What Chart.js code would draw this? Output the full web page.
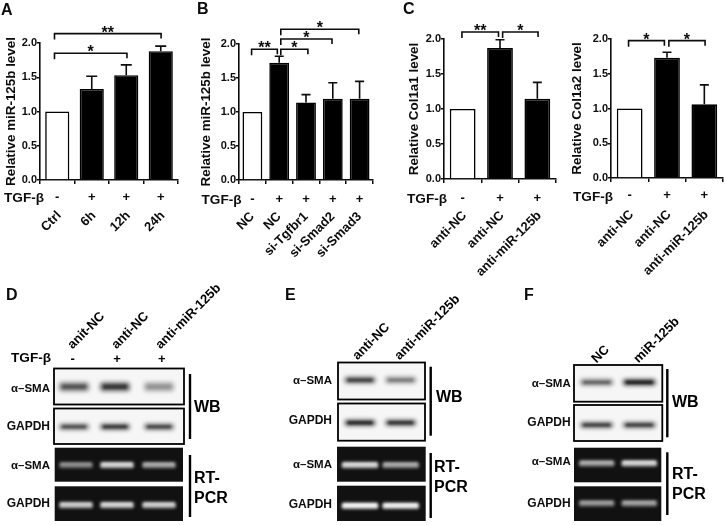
<!DOCTYPE html>
<html><head><meta charset="utf-8">
<script src="https://cdn.jsdelivr.net/npm/chart.js@4"></script>
<style>
html,body{margin:0;padding:0;background:#fff;width:725px;height:525px;overflow:hidden}
canvas{position:absolute;filter:blur(0.4px)}
</style></head><body>
<canvas id="blots" style="left:0;top:0" width="725" height="525"></canvas>
<canvas id="a" style="left:0;top:0" width="190" height="285"></canvas>
<canvas id="b" style="left:190px;top:0" width="190" height="285"></canvas>
<canvas id="c" style="left:395px;top:0" width="170" height="285"></canvas>
<canvas id="c2" style="left:568px;top:0" width="157" height="285"></canvas>
<script>
// ---- Data ----
const catsA = ['Ctrl','6h','12h','24h'];
const valsA = [1.0,1.33,1.53,1.88];
const topsA = [null,1.515,1.68,1.955];
const signsA = ['-','+','+','+'];
const bracketsA = [[-0.08,3.01,2.137,'**'],[-0.08,2.02,1.85,'*']];

const catsB = ['NC','NC','si-Tgfbr1','si-Smad2','si-Smad3'];
const valsB = [1.0,1.725,1.14,1.195,1.195];
const topsB = [null,1.82,1.255,1.43,1.45];
const signsB = ['-','+','+','+','+'];
const bracketsB = [[-0.03,0.93,1.922,'**'],[1.06,2.07,1.922,'*'],[1.06,2.97,2.074,'*'],[1.06,3.97,2.216,'*']];

const catsC = ['anti-NC','anti-NC','anti-miR-125b'];
const valsC1 = [1.0,1.87,1.145];
const topsC1 = [null,1.99,1.38];
const signsC = ['-','+','+'];
const bracketsC1 = [[-0.02,0.96,2.10,'**'],[1.07,2.02,2.10,'*']];

const valsC2 = [1.0,1.73,1.06];
const topsC2 = [null,1.81,1.34];
const bracketsC2 = [[-0.03,0.93,1.976,'*'],[1.05,2.02,1.976,'*']];

const yTicks = [0,0.5,1,1.5,2];

const lanesD = ['anit-NC','anti-NC','anti-miR-125b'];
const signsD = ['-','+','+'];
const wbSmaD = [0.5,0.72,0.16], wbGapdhD = [0.62,0.8,0.68], rtSmaD = [0.32,0.78,0.5], rtGapdhD = [0.72,0.78,0.74];
const lanesE = ['anti-NC','anti-miR-125b'];
const wbSmaE = [0.7,0.32], wbGapdhE = [0.95,0.85], rtSmaE = [0.8,0.5], rtGapdhE = [0.98,0.95];
const lanesF = ['NC','miR-125b'];
const wbSmaF = [0.45,0.98], wbGapdhF = [0.72,0.72], rtSmaF = [0.5,0.78], rtGapdhF = [0.4,0.45];

// ---- Styling / layout ----
const INK = '#0c0c0c';
const FF = '"Liberation Sans", Arial, sans-serif';
Chart.defaults.font.family = FF;
Chart.defaults.color = INK;

const annotate = {
  id:'annotate',
  afterDatasetsDraw(chart, args, o){
    const ctx = chart.ctx, x = chart.scales.x, y = chart.scales.y;
    ctx.save();
    ctx.strokeStyle = INK; ctx.fillStyle = INK; ctx.lineWidth = 1.6;
    // error bars
    o.tops.forEach((t,i)=>{
      if(t===null) return;
      const px = x.getPixelForValue(i), a = y.getPixelForValue(chart.data.datasets[0].data[i]), b = y.getPixelForValue(t);
      ctx.beginPath(); ctx.moveTo(px,a); ctx.lineTo(px,b);
      ctx.moveTo(px-o.cap,b); ctx.lineTo(px+o.cap,b); ctx.stroke();
    });
    // significance brackets
    ctx.textAlign='center'; ctx.textBaseline='alphabetic';
    o.brackets.forEach(([f,t,v,s])=>{
      const l=x.getPixelForValue(f), r=x.getPixelForValue(t), py=y.getPixelForValue(v);
      ctx.beginPath(); ctx.moveTo(l,py+6); ctx.lineTo(l,py); ctx.lineTo(r,py); ctx.lineTo(r,py+5); ctx.stroke();
      ctx.font='bold 16px '+FF;
      ctx.fillText(s,(l+r)/2,py+4);
    });
    // TGF-beta row
    ctx.font='bold 13.6px '+FF; ctx.textAlign='left'; ctx.textBaseline='middle';
    ctx.fillText('TGF-β',o.tgfX,o.tgfY);
    ctx.font='bold 13px '+FF; ctx.textAlign='center';
    o.signs.forEach((s,i)=>ctx.fillText(s,x.getPixelForValue(i),o.signY));
    ctx.restore();
  }
};

function barChart(id,cats,vals,tops,signs,brackets,title,g){
  new Chart(document.getElementById(id),{
    type:'bar',
    data:{labels:cats,datasets:[{
      data:vals,
      backgroundColor:vals.map((v,i)=>i===0?'#ffffff':'#000000'),
      borderColor:'#000000',borderWidth:1.6,
      categoryPercentage:1,barPercentage:g.bar
    }]},
    options:{
      responsive:false,animation:false,
      layout:{autoPadding:false,padding:{left:0,top:g.top,right:g.right,bottom:0}},
      plugins:{legend:{display:false},tooltip:{enabled:false},
        annotate:{tops,signs,brackets,cap:g.cap,tgfX:g.tgfX,tgfY:g.tgfY,signY:g.signY}},
      scales:{
        x:{
          afterFit(s){s.height=285-g.bottom;s.paddingLeft=0;s.paddingRight=0;},
          grid:{display:true,drawOnChartArea:false,drawTicks:true,tickLength:4,color:INK,lineWidth:1.5},
          border:{color:INK,width:1.6},
          ticks:{autoSkip:false,maxRotation:45,minRotation:45,padding:g.tickPad,labelOffset:g.labelOffset,color:INK,font:{size:13,weight:'bold'}}
        },
        y:{
          min:0,max:2,
          afterFit(s){s.width=g.left;s.paddingTop=0;s.paddingBottom=0;},
          afterBuildTicks(s){s.ticks=yTicks.map(v=>({value:v}));},
          grid:{display:true,drawOnChartArea:false,drawTicks:true,tickLength:3,color:INK,lineWidth:1.5},
          border:{color:INK,width:1.6},
          ticks:{padding:0,color:INK,font:{size:11,weight:'bold'},callback:v=>Number(v).toFixed(1)},
          title:{display:true,text:title,color:INK,font:{size:13.4,weight:'bold'},padding:{top:g.titlePad,bottom:0}}
        }
      }
    },
    plugins:[annotate]
  });
}

barChart('a',catsA,valsA,topsA,signsA,bracketsA,'Relative miR-125b level',
  {left:40,top:43,right:12,bottom:180,bar:0.7,cap:5.5,tickPad:24,labelOffset:2,tgfX:4,tgfY:198,signY:197,titlePad:3.5});
barChart('b',catsB,valsB,topsB,signsB,bracketsB,'Relative miR-125b level',
  {left:49,top:44,right:7,bottom:180,bar:0.74,cap:4.5,tickPad:25,labelOffset:0,tgfX:11.5,tgfY:200,signY:199,titlePad:8});
barChart('c',catsC,valsC1,topsC1,signsC,bracketsC1,'Relative Col1a1 level',
  {left:49,top:39,right:9,bottom:179,bar:0.69,cap:4.5,tickPad:25,labelOffset:2,tgfX:12,tgfY:199,signY:198,titlePad:11});
barChart('c2',catsC,valsC2,topsC2,signsC,bracketsC2,'Relative Col1a2 level',
  {left:43,top:39,right:2,bottom:178,bar:0.69,cap:4.5,tickPad:25,labelOffset:2,tgfX:5,tgfY:197,signY:195,titlePad:1});

// ---- Blot panels, drawn by a plugin on a chart with hidden scales ----
const panels = [
  {letter:'D',lx:6,ly:296,
   wb:{x:[54,184],y:[[368.5,404.5],[408.5,444]]},
   rt:{x:[54.7,183],y:[[447.7,481.7],[486.3,521]]},
   lanes:[74,115,159],rtLanes:[76,117,159],bw:30,rw:34,smaH:9,
   bands:[386.7,426.7,465,505],vals:[wbSmaD,wbGapdhD,rtSmaD,rtGapdhD],
   labR:50,labY:[388.7,426.5,466,504],
   bar:190,wbBar:[374,439],rtBar:[455,517],wbX:194,wbY:408,rtX:194,rtY:[479,499],
   names:lanesD,nameX:[70,114,158],nameY:347,tgf:{x:11,y:358,signs:signsD,signX:[72.7,117,161.7],signY:359}},
  {letter:'E',lx:285,ly:296,
   wb:{x:[338,425],y:[[362.5,399.5],[403.5,440.7]]},
   rt:{x:[337,425.7],y:[[446.7,481.7],[485.7,521]]},
   lanes:[360,400.7],rtLanes:[360,400.7],bw:31,rw:37,smaH:6.5,
   bands:[380,422.7,465,505.7],vals:[wbSmaE,wbGapdhE,rtSmaE,rtGapdhE],
   labR:332,labY:[381,421,465,505],
   bar:430.7,wbBar:[366.7,435.7],rtBar:[453,518],wbX:436,wbY:398,rtX:434,rtY:[468,488],
   names:lanesE,nameX:[355,397],nameY:358},
  {letter:'F',lx:524,ly:296,
   wb:{x:[574,662.3],y:[[365,401.7],[405,441]]},
   rt:{x:[574,661.3],y:[[447.7,482.3],[486.3,521]]},
   lanes:[596.7,639.3],rtLanes:[596.7,639.3],bw:33,rw:36,smaH:6.5,
   bands:[382.3,425,463.3,503.3],vals:[wbSmaF,wbGapdhF,rtSmaF,rtGapdhF],
   labR:570.7,labY:[383.7,422.7,462.3,504],
   bar:667.3,wbBar:[369,437.3],rtBar:[452.3,515],wbX:672,wbY:403,rtX:672,rtY:[475,495],
   names:lanesF,nameX:[594,636],nameY:361}
];
const letters = [['A',1,11],['B',197,10],['C',403,10]];

function rrect(ctx,x,y,w,h,r){ctx.beginPath();ctx.roundRect(x,y,w,h,r);}

const blotPlugin = {
  id:'blotPlugin',
  afterDraw(chart){
    const ctx = chart.ctx;
    ctx.save();
    ctx.textBaseline='middle';ctx.fillStyle=INK;
    letters.forEach(([t,x,y])=>{ctx.font='bold 16px '+FF;ctx.textAlign='left';ctx.fillText(t,x,y);});
    panels.forEach(p=>{
      ctx.font='bold 16px '+FF;ctx.textAlign='left';ctx.fillStyle=INK;
      ctx.fillText(p.letter,p.lx,p.ly);
      // western blot boxes
      p.wb.y.forEach((yy,k)=>{
        const [x0,x1]=p.wb.x,[y0,y1]=yy;
        ctx.fillStyle='#f6f6f6';ctx.fillRect(x0,y0,x1-x0,y1-y0);
        ctx.save();ctx.beginPath();ctx.rect(x0,y0,x1-x0,y1-y0);ctx.clip();
        p.lanes.forEach((cx,i)=>{
          const a=p.vals[k][i],h=k===0?p.smaH:6;
          ctx.filter='blur(2.2px)';ctx.fillStyle=`rgba(40,40,40,${0.3+0.55*a})`;
          rrect(ctx,cx-p.bw/2,p.bands[k]-h/2,p.bw,h,3);ctx.fill();
          ctx.filter='blur(1.3px)';ctx.fillStyle=`rgba(15,15,15,${a*0.75})`;
          rrect(ctx,cx-p.bw/2+3,p.bands[k]-h/4,p.bw-6,h/2,2);ctx.fill();
        });
        ctx.filter='none';ctx.restore();
        ctx.strokeStyle='#000';ctx.lineWidth=1.8;ctx.strokeRect(x0,y0,x1-x0,y1-y0);
      });
      // RT-PCR gels
      p.rt.y.forEach((yy,k)=>{
        const [x0,x1]=p.rt.x,[y0,y1]=yy;
        ctx.fillStyle='#111111';ctx.fillRect(x0,y0,x1-x0,y1-y0);
        ctx.save();ctx.beginPath();ctx.rect(x0,y0,x1-x0,y1-y0);ctx.clip();
        p.rtLanes.forEach((cx,i)=>{
          const a=p.vals[k+2][i],h=6.5;
          const c=Math.round(60+150*a);
          ctx.filter='blur(1.4px)';ctx.fillStyle=`rgb(${c},${c},${c})`;
          rrect(ctx,cx-p.rw/2,p.bands[k+2]-h/2,p.rw,h,2);ctx.fill();
          const d=Math.round(100+155*a);
          ctx.filter='blur(0.9px)';ctx.fillStyle=`rgb(${d},${d},${d})`;
          rrect(ctx,cx-p.rw/2+2,p.bands[k+2]-h/2+1.5,p.rw-4,2.5,1);ctx.fill();
        });
        ctx.filter='none';ctx.restore();
      });
      // row labels
      ctx.fillStyle=INK;ctx.textAlign='right';
      ['α–SMA','GAPDH','α–SMA','GAPDH'].forEach((t,k)=>{
        ctx.font='bold '+(k%2?'12':'11.5')+'px '+FF;
        ctx.fillText(t,p.labR,p.labY[k]);
      });
      // method brackets
      ctx.fillStyle='#000';
      ctx.fillRect(p.bar-1.2,p.wbBar[0],2.4,p.wbBar[1]-p.wbBar[0]);
      ctx.fillRect(p.bar-1.2,p.rtBar[0],2.4,p.rtBar[1]-p.rtBar[0]);
      ctx.textAlign='left';ctx.font='bold 16px '+FF;
      ctx.fillText('WB',p.wbX,p.wbY);
      ctx.fillText('RT-',p.rtX,p.rtY[0]);
      ctx.fillText('PCR',p.rtX,p.rtY[1]);
      // lane names
      ctx.font='bold 13px '+FF;
      p.names.forEach((n,i)=>{
        ctx.save();ctx.translate(p.nameX[i],p.nameY);ctx.rotate(-Math.PI/4);
        ctx.textAlign='left';ctx.fillText(n,0,0);ctx.restore();
      });
      if(p.tgf){
        ctx.font='bold 13.6px '+FF;ctx.textAlign='left';
        ctx.fillText('TGF-β',p.tgf.x,p.tgf.y);
        ctx.font='bold 13px '+FF;ctx.textAlign='center';
        p.tgf.signs.forEach((s,i)=>ctx.fillText(s,p.tgf.signX[i],p.tgf.signY));
      }
    });
    ctx.restore();
  }
};
new Chart(document.getElementById('blots'),{
  type:'bar',
  data:{labels:[],datasets:[{data:[]}]},
  options:{responsive:false,animation:false,
    plugins:{legend:{display:false},tooltip:{enabled:false}},
    scales:{x:{display:false},y:{display:false}}},
  plugins:[blotPlugin]
});
</script>
</body></html>
